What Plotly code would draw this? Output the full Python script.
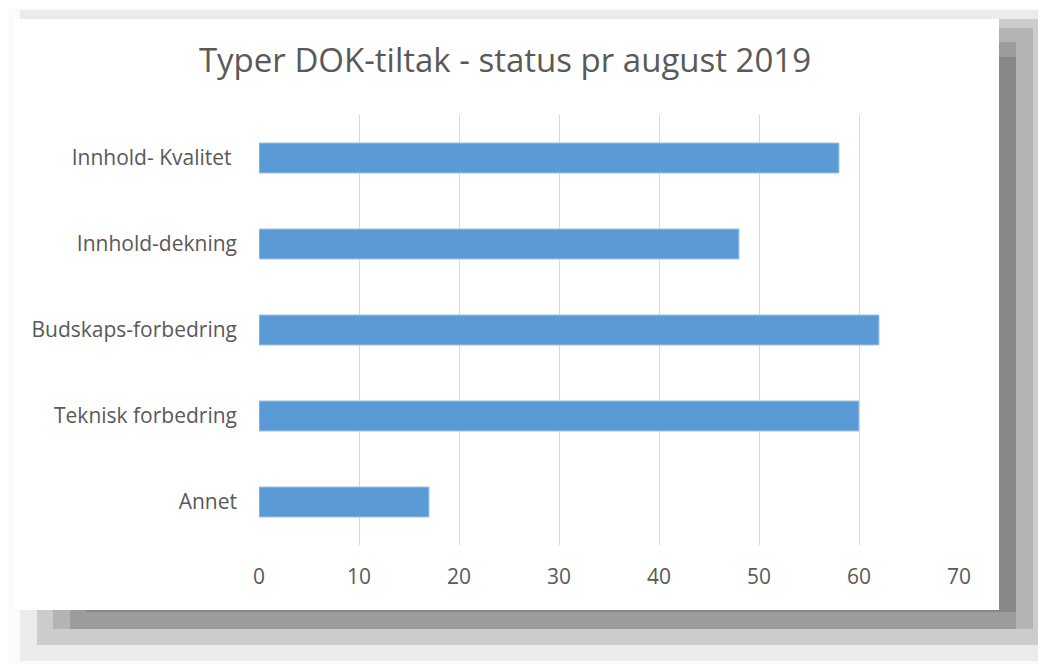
import plotly.graph_objects as go

categories = ["Innhold- Kvalitet\u00a0", "Innhold-dekning", "Budskaps-forbedring", "Teknisk forbedring", "Annet"]
values = [58, 48, 62, 60, 17]
tick_vals = [0, 10, 20, 30, 40, 50, 60, 70]

OFF = 8  # page body margin
W, H = 1046 - OFF, 664 - OFF
L, R, T, B = 259, 959, 115, 545  # plot area in page pixels


def px(x):
    return (x - L) / (R - L)


def py(y):
    return (B - y) / (B - T)


fig = go.Figure(go.Bar(
    y=categories[::-1], x=values[::-1], orientation="h",
    marker=dict(color="#5B9BD5", line=dict(color="#A9C8EA", width=1)),
    width=0.35,
))

shapes = []
layers = [
    ((20, 10, 1060, 661), "#ebebeb"),
    ((37, 19, 1060, 645), "#cccccc"),
    ((53, 28, 1033, 629), "#b4b4b4"),
    ((70, 42, 1016, 629), "#9c9c9c"),
    ((86, 57, 1016, 612), "#888888"),
]
for (x0, y0, x1, y1), c in layers:
    shapes.append(dict(type="rect", xref="paper", yref="paper",
                       x0=px(x0), x1=px(x1), y0=py(y1), y1=py(y0),
                       fillcolor=c, line=dict(width=0), layer="below"))
shapes.append(dict(type="rect", xref="paper", yref="paper",
                   x0=px(14), x1=px(999), y0=py(610), y1=py(19),
                   fillcolor="white", line=dict(width=0), layer="below"))

fig.update_layout(
    width=W, height=H,
    margin=dict(l=L - OFF, r=W - (R - OFF), t=T - OFF, b=H - (B - OFF), pad=0),
    paper_bgcolor="#fbfbfb", plot_bgcolor="rgba(0,0,0,0)",
    shapes=shapes,
    showlegend=False,
    title=dict(text="Typer DOK-tiltak - status pr august 2019",
               xref="paper", x=px(505), xanchor="center",
               yref="container", y=1 - (60 - OFF) / H, yanchor="middle",
               font=dict(family="Open Sans", size=33, color="#595959")),
    font=dict(family="Open Sans", size=21, color="#595959"),
    xaxis=dict(range=[0, 70], tickvals=tick_vals, showgrid=True, gridcolor="#d9d9d9",
               gridwidth=1, zeroline=False, showline=False, ticks="",
               ticklabelstandoff=17, fixedrange=True),
    yaxis=dict(showgrid=False, zeroline=False, showline=False, ticks="",
               ticklabelstandoff=21, fixedrange=True),
    bargap=0.65,
)

fig.write_html("out.html")
